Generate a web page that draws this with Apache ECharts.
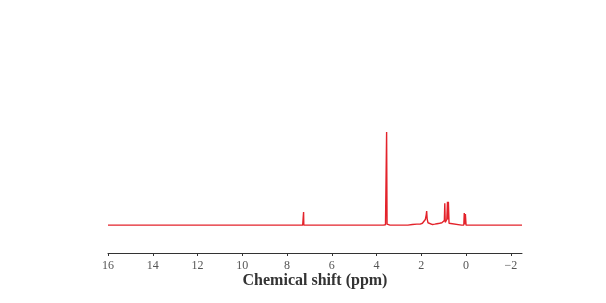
<!DOCTYPE html>
<html><head><meta charset="utf-8">
<script src="https://cdn.jsdelivr.net/npm/echarts@6/dist/echarts.min.js"></script>
<style>html,body{margin:0;padding:0;background:#fff}#c{width:606px;height:303px}</style>
</head><body><div id="c"></div>
<script>
// Chemical shift (ppm) values and relative intensities
const shifts = [16.0, 7.30, 7.27, 7.26, 7.25, 7.22,
  3.70, 3.60, 3.57, 3.55, 3.53, 3.50, 3.40,
  2.60, 2.40, 2.20, 2.05, 1.95, 1.88, 1.82, 1.78, 1.76, 1.74, 1.70, 1.62,
  1.50, 1.40, 1.30, 1.27, 1.25, 1.22, 1.18, 1.12, 1.08, 1.04, 1.00,
  0.97, 0.95, 0.93, 0.90, 0.88, 0.86, 0.83, 0.81, 0.79, 0.76, 0.70,
  0.20, 0.10, 0.08, 0.07, 0.06, 0.04, 0.03, 0.02, 0.00, -0.05, -2.5];
const intensity = [0, 0, 0, 14, 0, 0,
  0, 0.3, 1, 100, 1, 0.3, 0,
  0, 0.6, 1.0, 1.0, 2.0, 3.5, 6, 11, 15, 7, 2.5, 1,
  0.6, 1, 1.5, 3, 2, 1.2, 2, 3.5, 2.5, 1.5, 2,
  5, 23.5, 3, 1.5, 2, 6, 25, 6, 25, 2, 0,
  0, 0, 13, 11, 13, 1, 12, 11, 0, 0, 0];
const tickValues = [16, 14, 12, 10, 8, 6, 4, 2, 0, -2];

const data = shifts.map((s, i) => [s, intensity[i]]);
const chart = echarts.init(document.getElementById('c'));
chart.setOption({
  animation: false,
  backgroundColor: '#fff',
  grid: {left: 108, right: 84, top: 120, bottom: 50},
  xAxis: {
    type: 'value', inverse: true, min: -2.5, max: 16,
    name: 'Chemical shift (ppm)', nameLocation: 'middle', nameGap: 20,
    nameTextStyle: {fontFamily: 'Liberation Serif', fontWeight: 'bold', fontSize: 16, color: '#333'},
    axisLine: {show: true, onZero: false, lineStyle: {color: '#333', width: 1}},
    axisTick: {show: true, length: 3, customValues: tickValues, lineStyle: {color: '#333'}},
    axisLabel: {customValues: tickValues, fontFamily: 'Liberation Serif', fontSize: 12, color: '#555', margin: 7,
      formatter: v => (v < 0 ? '\u2212' + Math.abs(v) : String(v))},
    splitLine: {show: false}
  },
  yAxis: {type: 'value', min: -30, max: 113, show: false},
  series: [{
    type: 'line', data: data, showSymbol: false,
    lineStyle: {color: '#e3232b', width: 1.4},
    itemStyle: {color: '#e3232b'}
  }]
});
</script></body></html>
